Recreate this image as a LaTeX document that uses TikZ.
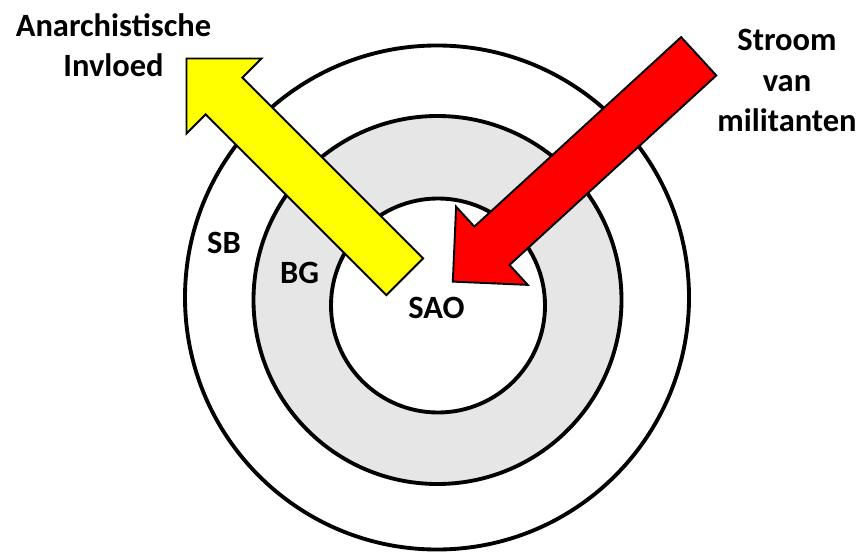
\documentclass[tikz,border=0pt]{standalone}
\usepackage{fontspec}
\setmainfont{Carlito}
\usepackage{xcolor}
\usepackage{tikz}
\definecolor{ringgray}{HTML}{E7E6E6}
\definecolor{flowred}{HTML}{FF0000}
\definecolor{flowyellow}{HTML}{FFFF00}
\tikzset{
  ring/.style={draw=black, line width=2.2pt},
  fatarrow/.style={draw=black, line width=1.1pt, line join=miter},
  lbl/.style={font=\bfseries\fontsize{18.5}{23}\selectfont, align=center, inner sep=0pt}
}

\begin{document}
\begin{tikzpicture}[x=0.02cm, y=0.02cm]
  \useasboundingbox (0,0) rectangle (861,555);
  % rings: SB, BG, SAO
  \foreach \cx/\cy/\r/\col in {437/257.5/252/white, 437.5/255/184/ringgray, 438/249.5/107/white}
    \filldraw[ring, fill=\col] (\cx,\cy) circle (\r);
  % fat arrows: tail x / tail y / angle / length / colour
  \foreach \tx/\ty/\ang/\len/\col in {404.7/278.3/135/308.6/flowyellow, 698.7/498.7/222.5/333.5/flowred} {
    \begin{scope}[shift={(\tx,\ty)}, rotate=\ang]
      \filldraw[fatarrow, fill=\col] (0,-26) -- ({\len-53},-26) -- ({\len-53},-53)
        -- (\len,0) -- ({\len-53},53) -- ({\len-53},26) -- (0,26) -- cycle;
    \end{scope}
  }
  \node[lbl] (sao) at (436.5,247.5) {SAO};
  \node[lbl] (bg) at (299.5,282.5) {BG};
  \node[lbl] (sb) at (224,311.7) {SB};
  \node[lbl] (anarch) at (113.5,510) {Anarchistische\\Invloed};
  \node[lbl] (stroom) at (787,474.5) {Stroom\\van\\militanten};
\end{tikzpicture}
\end{document}
